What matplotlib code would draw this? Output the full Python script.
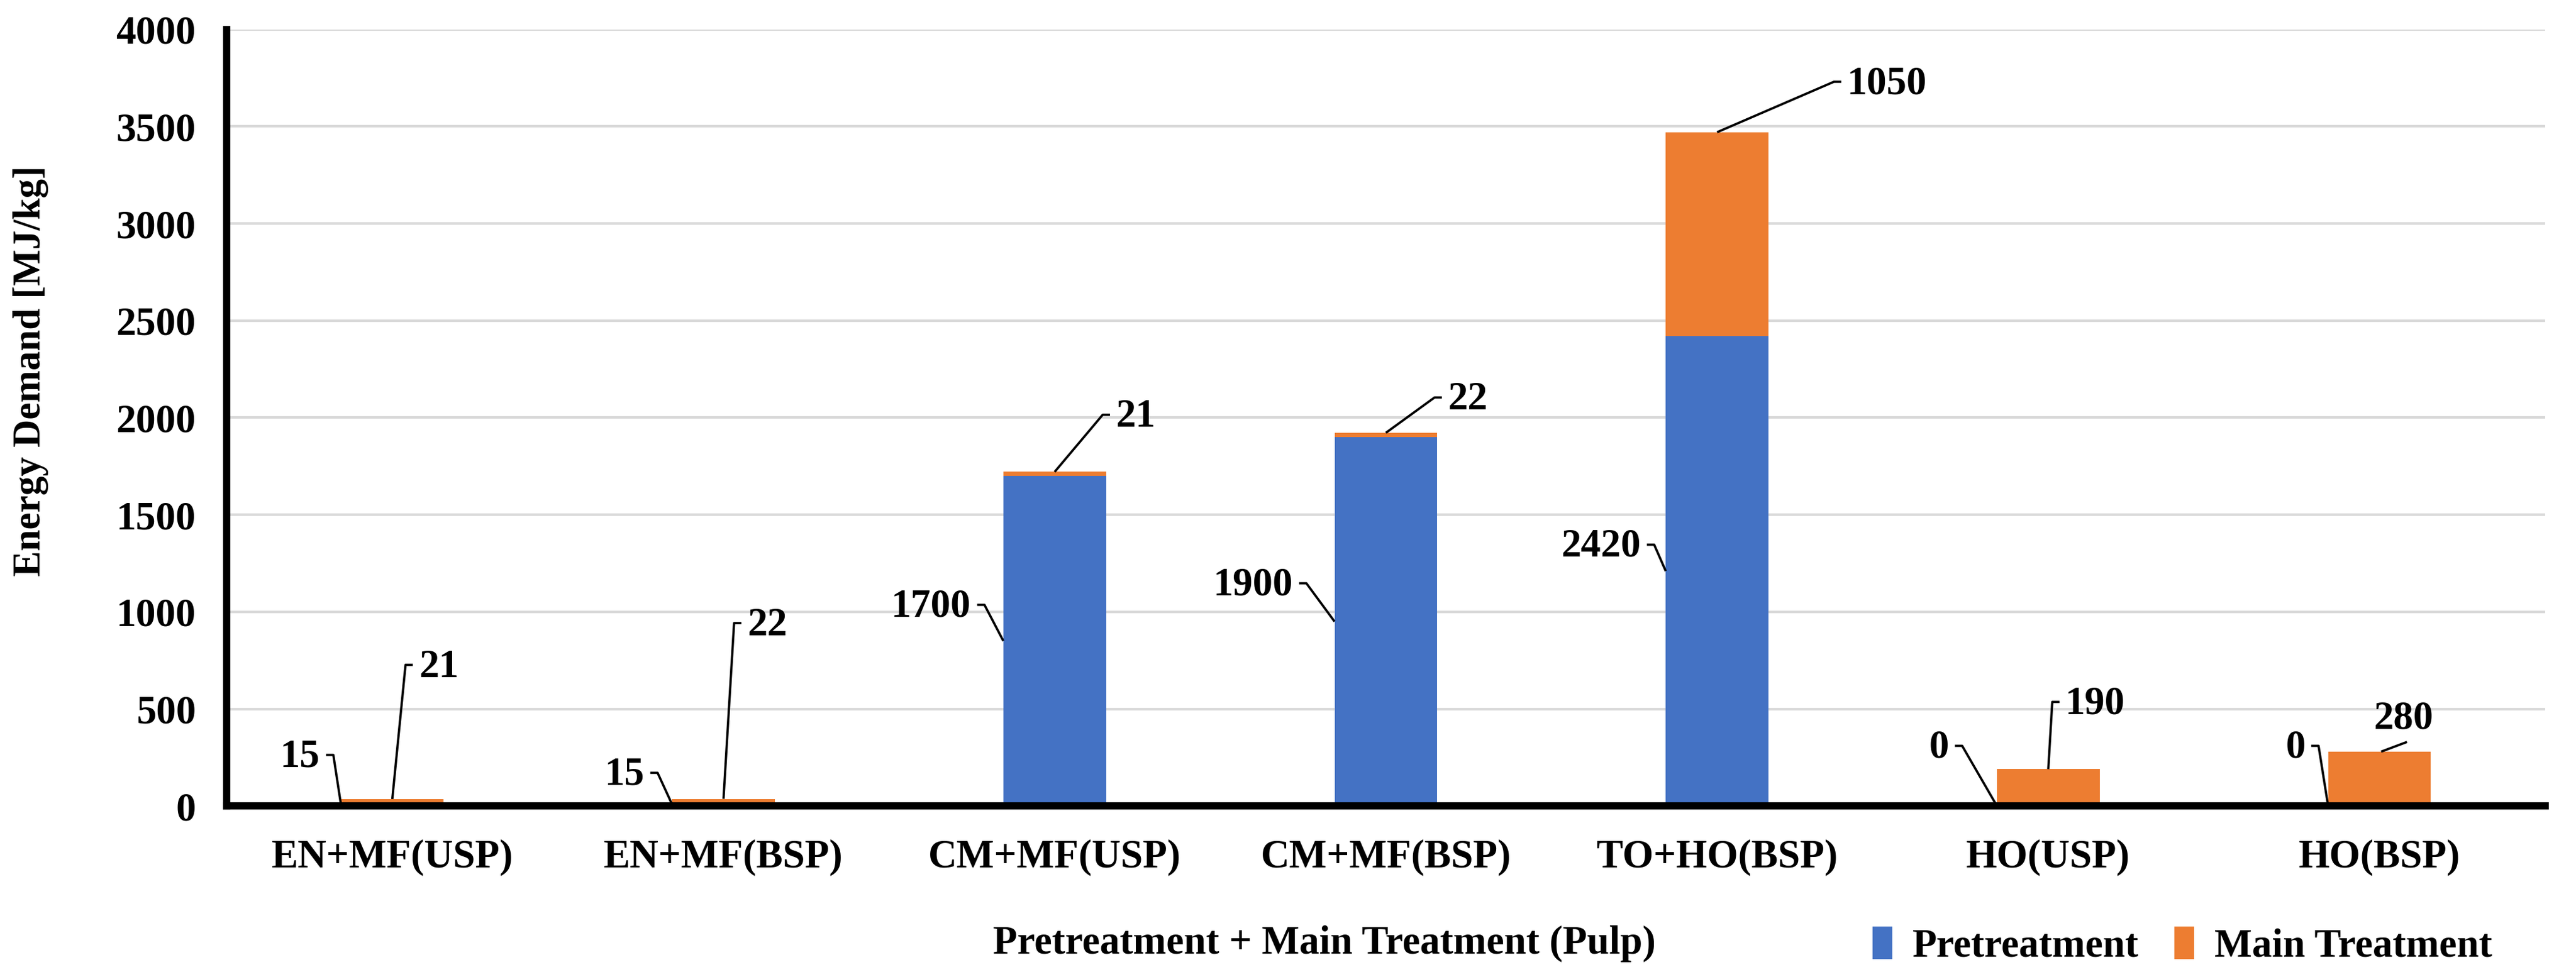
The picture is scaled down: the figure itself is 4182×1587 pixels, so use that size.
import numpy as np
import matplotlib.pyplot as plt

# data
categories = ["EN+MF(USP)", "EN+MF(BSP)", "CM+MF(USP)", "CM+MF(BSP)",
              "TO+HO(BSP)", "HO(USP)", "HO(BSP)"]
pretreatment = [15, 15, 1700, 1900, 2420, 0, 0]
main_treatment = [21, 22, 21, 22, 1050, 190, 280]

# label placement (x offset from bar centre, label centre value)
pre_lab_dx = [-0.218, -0.239, -0.252, -0.28, -0.23, -0.30, -0.224]
pre_lab_y = [253, 161, 1026, 1137, 1336, 300, 300]
main_lab_dx = [0.08, 0.072, 0.185, 0.187, 0.393, 0.052, 0.073]
main_lab_y = [715, 930, 2003, 2092, 3718, 524, 450]

BLUE = "#4472C4"
ORANGE = "#ED7D31"

plt.rcParams['font.family'] = ['Liberation Serif', 'DejaVu Serif']
plt.rcParams['font.weight'] = 'bold'

fig = plt.figure(figsize=(13.94, 5.29), dpi=300)
ax = fig.add_axes([0.088, 0.175, 0.900, 0.795])

x = np.arange(len(categories))
w = 0.31
ax.bar(x, pretreatment, w, color=BLUE, label="Pretreatment", zorder=3)
ax.bar(x, main_treatment, w, bottom=pretreatment, color=ORANGE,
       label="Main Treatment", zorder=3)

ax.set_xlim(-0.5, len(categories) - 0.5)
ax.set_ylim(0, 4000)
ax.set_yticks(np.arange(0, 4001, 500))
ax.set_xticks(x)
ax.set_xticklabels(categories)
ax.tick_params(axis='both', length=0, labelsize=15.5)
ax.tick_params(axis='x', pad=13)
ax.tick_params(axis='y', pad=12)
for t in ax.get_xticklabels() + ax.get_yticklabels():
    t.set_fontweight('bold')

ax.grid(axis='y', color='#d9d9d9', lw=1.0, zorder=0)
for s in ['top', 'right']:
    ax.spines[s].set_visible(False)
for s in ['left', 'bottom']:
    ax.spines[s].set_linewidth(2.8)
    ax.spines[s].set_zorder(4)

dash = 0.022
gap = 0.018
lk = dict(color='black', lw=0.9, zorder=5, solid_capstyle='butt')

# pretreatment labels: left of bar, leader to left edge at segment middle
for i in range(len(categories)):
    xt = x[i] + pre_lab_dx[i]
    yt = pre_lab_y[i]
    ax.text(xt, yt, str(pretreatment[i]), ha='right', va='center',
            fontsize=15.5, fontweight='bold', zorder=6)
    x1 = xt + gap
    x2 = x1 + dash
    ax.plot([x1, x2, x[i] - w / 2], [yt + 10, yt + 10, pretreatment[i] / 2], **lk)

# main treatment labels: right of bar, leader to bar top centre
for i in range(len(categories)):
    xt = x[i] + main_lab_dx[i]
    yt = main_lab_y[i]
    top = pretreatment[i] + main_treatment[i]
    if i == len(categories) - 1:
        ax.text(xt, yt, str(main_treatment[i]), ha='center', va='center',
                fontsize=15.5, fontweight='bold', zorder=6)
        ax.plot([x[i] + 0.005, xt + 0.01], [top, yt - 120], **lk)
        continue
    ax.text(xt, yt, str(main_treatment[i]), ha='left', va='center',
            fontsize=15.5, fontweight='bold', zorder=6)
    x2 = xt - gap
    x1 = x2 - dash
    ax.plot([x[i], x1, x2], [top, yt + 12, yt + 12], **lk)

fig.text(0.012, 0.62, "Energy Demand [MJ/kg]", rotation=90, ha='center',
         va='center', fontsize=15, fontweight='bold')
fig.text(0.514, 0.034, "Pretreatment + Main Treatment (Pulp)", ha='center',
         va='center', fontsize=15.5, fontweight='bold')

fig.legend(loc='center left', bbox_to_anchor=(0.713, 0.032), ncol=2,
           frameon=False, fontsize=15.5, handlelength=0.5, handleheight=0.9,
           handletextpad=0.5, columnspacing=0.9)

fig.savefig("out.png", dpi=300)
